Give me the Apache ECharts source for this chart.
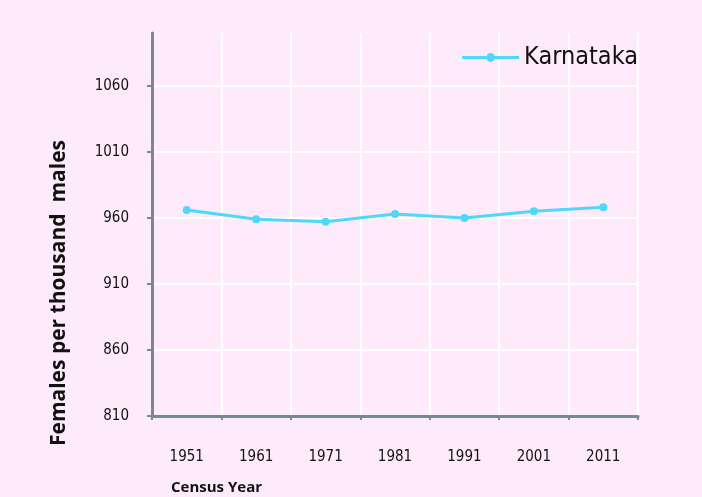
<!DOCTYPE html>
<html><head><meta charset="utf-8">
<script src="https://cdn.jsdelivr.net/npm/echarts@6/dist/echarts.min.js"></script>
<style>html,body{margin:0;padding:0;background:#fdebfb}#c{width:702px;height:497px}</style>
</head><body><div id="c"></div>
<script>
const categories = ['1951','1961','1971','1981','1991','2001','2011'];
const karnataka = [966, 959, 957, 963, 960, 965, 968];
const seriesName = 'Karnataka';
const yTitle = 'Females per thousand  males';
const xTitle = 'Census Year';
const font = "'DejaVu Sans Condensed','Liberation Sans Narrow','Noto Sans',sans-serif";
const chart = echarts.init(document.getElementById('c'));
chart.setOption({
  backgroundColor: '#fdebfb',
  animation: false,
  grid: {left: 152, right: 64, top: 33, bottom: 81},
  legend: {
    data: [seriesName], right: 59, top: 40, itemWidth: 57, itemHeight: 11, itemGap: 5,
    lineStyle: {width: 3},
    textStyle: {fontSize: 25, color: '#111', fontFamily: font}
  },
  xAxis: {
    type: 'category', data: categories, boundaryGap: true,
    axisLine: {lineStyle: {color: '#778b8b', width: 3}},
    axisTick: {show: true, length: 4, lineStyle: {color: '#778b8b', width: 2}},
    axisLabel: {margin: 34, fontSize: 15, color: '#111', fontFamily: font},
    splitLine: {show: true, lineStyle: {color: '#ffffff', width: 2}}
  },
  yAxis: {
    type: 'value', min: 810, max: 1100, interval: 50,
    axisLine: {show: true, lineStyle: {color: '#778b8b', width: 3}},
    axisTick: {show: true, length: 5, lineStyle: {color: '#778b8b', width: 2}},
    axisLabel: {margin: 23, fontSize: 15, color: '#111', fontFamily: font, showMaxLabel: false,
      formatter: v => String(v)},
    splitLine: {show: true, showMaxLine: false, lineStyle: {color: '#ffffff', width: 2}}
  },
  graphic: [
    {type: 'text', left: 49, top: 140, rotation: Math.PI/2, style: {text: yTitle, font: "bold 21px 'Open Sans','Noto Sans',sans-serif", fill: '#111'}},
    {type: 'text', left: 171, top: 480, style: {text: xTitle, font: "bold 15px 'Open Sans','Noto Sans',sans-serif", fill: '#111'}}
  ],
  series: [{
    name: seriesName, type: 'line', data: karnataka,
    symbol: 'circle', symbolSize: 8,
    lineStyle: {color: '#4fd8f8', width: 3},
    itemStyle: {color: '#4fd8f8'}
  }]
});
</script></body></html>
